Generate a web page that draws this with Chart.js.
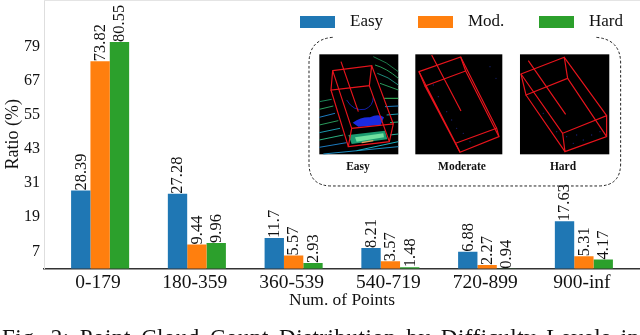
<!DOCTYPE html>
<html>
<head>
<meta charset="utf-8">
<script src="https://cdn.jsdelivr.net/npm/chart.js@4"></script>
<style>
  html, body { margin: 0; padding: 0; background: #fff; }
  #wrap { position: relative; width: 640px; height: 335px; overflow: hidden; }
  #chart { position: absolute; left: 0; top: 0; }
  #inset { position: absolute; left: 0; top: 0; pointer-events: none; }
  .panel-label { position: absolute; top: 160px; width: 80px; text-align: center; font: bold 11.5px "Liberation Serif", serif; color: #111; }
  #caption { position: absolute; left: 2px; top: 325px; white-space: nowrap; font: 23px "Liberation Serif", serif; letter-spacing: 0.5px; word-spacing: 4px; color: #111; }
</style>
</head>
<body>
<div id="wrap">
  <canvas id="chart" width="640" height="335"></canvas>
  <svg id="inset" width="640" height="335">
    <g transform="translate(290,0) scale(0.3333)">
      <path d="M128 112 Q57 118 57 190 L57 490 Q57 558 125 558 L925 558 Q992 558 992 490 L992 190 Q992 118 918 112" fill="none" stroke="#222" stroke-width="3" stroke-dasharray="8 6"/>

      <rect x="88" y="163" width="237" height="300" fill="#000"/>
      <rect x="376" y="163" width="261" height="300" fill="#000"/>
      <rect x="690" y="163" width="268" height="300" fill="#000"/>

      <!-- lidar sweeps, first panel -->
      <g fill="none" stroke-width="3">
        <path d="M250 170 Q290 185 325 215" stroke="#1d7a4a"/>
        <path d="M255 195 Q290 205 325 235" stroke="#2a9a5a"/>
        <path d="M262 220 Q295 230 325 255" stroke="#1d8a7a"/>
        <path d="M270 250 L325 270" stroke="#2a9a5a"/>
        <path d="M282 295 L325 295" stroke="#3ac060"/>
        <path d="M285 320 L325 318" stroke="#1b7ac0"/>
        <path d="M290 345 L325 342" stroke="#1b9ab0"/>
        <path d="M300 368 L325 366" stroke="#2ab080"/>
        <path d="M88 305 L125 298" stroke="#1d8a5a"/>
        <path d="M88 328 L130 318" stroke="#2aa060"/>
        <path d="M88 352 L135 340" stroke="#1b7ac0"/>
        <path d="M88 375 L145 362" stroke="#2a9a5a"/>
        <path d="M88 398 L150 385" stroke="#1b9ab0"/>
        <path d="M88 420 L160 405" stroke="#2ab080"/>
        <path d="M88 442 L170 428" stroke="#1b7ac0"/>
        <path d="M100 462 L325 440" stroke="#1b8ac0"/>
        <path d="M200 452 L325 425" stroke="#1bb0c0"/>
        <path d="M300 405 L325 402" stroke="#2ab0a0"/>
      </g>
      <path d="M170 300 Q190 335 225 328 Q250 318 250 290" fill="none" stroke="#1420a8" stroke-width="3"/>
      <path d="M188 368 Q215 350 240 352 Q265 340 282 352 L272 375 L205 380 Z" fill="#1a2be0"/>
      <path d="M175 405 L285 392 L292 418 L185 432 Z" fill="#1c9a70"/>
      <path d="M195 412 L280 400 L282 412 L200 425 Z" fill="#70e0a0"/>
      <path d="M215 428 L250 422" stroke="#e0a060" stroke-width="4"/>

      <g fill="#16206e">
        <circle cx="430" cy="255" r="2"/><circle cx="445" cy="290" r="2"/><circle cx="470" cy="335" r="2"/>
        <circle cx="485" cy="360" r="2"/><circle cx="500" cy="385" r="2"/><circle cx="520" cy="400" r="2"/>
        <circle cx="540" cy="425" r="2"/><circle cx="600" cy="200" r="2"/><circle cx="618" cy="235" r="2"/>
        <circle cx="800" cy="395" r="2"/><circle cx="850" cy="430" r="2"/><circle cx="880" cy="420" r="2"/>
        <circle cx="905" cy="405" r="2"/><circle cx="930" cy="395" r="2"/><circle cx="760" cy="340" r="2"/>
        <circle cx="830" cy="410" r="2"/><circle cx="860" cy="405" r="2"/>
      </g>

      <!-- boxes -->
      <g fill="none" stroke="#e8141c" stroke-width="3.5">
        <path d="M128 212 L245 197 L238 257 L123 270 Z"/>
        <path d="M175 440 L298 425 L310 372 L185 385 Z"/>
        <path d="M128 212 L185 385 M245 197 L310 372 M123 270 L175 440 M238 257 L298 425 M153 185 L205 335"/>

        <path d="M387 215 L512 171 L527 213 L405 258 Z"/>
        <path d="M510 457 L627 410 L620 385 L497 430 Z"/>
        <path d="M387 215 L497 430 M512 171 L620 385 M405 258 L510 457 M527 213 L627 410 M425 165 L513 333"/>

        <path d="M693 222 L823 172 L833 235 L708 285 Z"/>
        <path d="M825 455 L950 410 L950 347 L818 400 Z"/>
        <path d="M693 222 L818 400 M823 172 L950 347 M708 285 L825 455 M833 235 L950 410 M715 182 L827 343"/>
      </g>
    </g>
  </svg>
  <div class="panel-label" style="left:318px">Easy</div>
  <div class="panel-label" style="left:422px">Moderate</div>
  <div class="panel-label" style="left:523px">Hard</div>
  <div id="caption">Fig. 2: Point Cloud Count Distribution by Difficulty Levels in</div>
</div>

<script>
const categories = ["0-179", "180-359", "360-539", "540-719", "720-899", "900-inf"];
const easy = [28.39, 27.28, 11.7, 8.21, 6.88, 17.63];
const moderate = [73.82, 9.44, 5.57, 3.57, 2.27, 5.31];
const hard = [80.55, 9.96, 2.93, 1.48, 0.94, 4.17];
const yTicks = [7, 19, 31, 43, 55, 67, 79];

const serif = '"Liberation Serif", serif';

function toPoints(values) {
    return values.map((v, i) => ({ x: i, y: v }));
}

// rotated numbers sitting on top of each bar
const valueLabels = {
    id: "valueLabels",
    afterDatasetsDraw(chart) {
        const ctx = chart.ctx;
        ctx.save();
        ctx.font = "16.5px " + serif;
        ctx.fillStyle = "#111";
        ctx.textAlign = "left";
        ctx.textBaseline = "middle";
        chart.data.datasets.forEach((ds, d) => {
            chart.getDatasetMeta(d).data.forEach((bar, i) => {
                ctx.save();
                ctx.translate(bar.x + 0.5, bar.y);
                ctx.rotate(-Math.PI / 2);
                ctx.fillText(String(ds.data[i].y), 0, 0);
                ctx.restore();
            });
        });
        ctx.restore();
    }
};

// legend sits over the plot with wide gaps, the built in one can't space it like this
const topLegend = {
    id: "topLegend",
    afterDraw(chart) {
        const ctx = chart.ctx;
        const swatches = [300, 418, 539];
        ctx.save();
        ctx.font = "17px " + serif;
        ctx.textBaseline = "middle";
        ctx.textAlign = "left";
        chart.data.datasets.forEach((ds, d) => {
            ctx.fillStyle = ds.backgroundColor;
            ctx.fillRect(swatches[d], 16, 35, 12);
            ctx.fillStyle = "#111";
            ctx.fillText(ds.label, swatches[d] + 50, 22);
        });
        // faint top spine
        ctx.strokeStyle = "#e4e4e4";
        ctx.beginPath();
        ctx.moveTo(44, 0.5);
        ctx.lineTo(640, 0.5);
        ctx.stroke();
        ctx.restore();
    }
};

new Chart(document.getElementById("chart").getContext("2d"), {
    type: "bar",
    data: {
        datasets: [
            { label: "Easy", data: toPoints(easy), backgroundColor: "#1f77b4" },
            { label: "Mod.", data: toPoints(moderate), backgroundColor: "#ff7f0e" },
            { label: "Hard", data: toPoints(hard), backgroundColor: "#2ca02c" }
        ]
    },
    options: {
        responsive: false,
        animation: false,
        categoryPercentage: 0.6,
        barPercentage: 1,
        layout: { padding: 0 },
        plugins: {
            legend: { display: false },
            tooltip: { enabled: false }
        },
        scales: {
            x: {
                type: "linear",
                offset: false,
                min: -0.58,
                max: 5.58,
                afterBuildTicks(scale) {
                    scale.ticks = categories.map((c, i) => ({ value: i }));
                },
                afterFit(scale) {
                    scale.height = 66.5;
                    scale.paddingLeft = 0;
                    scale.paddingRight = 0;
                },
                grid: { display: false, tickLength: 3, drawTicks: true },
                border: { color: "#333", width: 1.5 },
                ticks: {
                    autoSkip: false,
                    maxRotation: 0,
                    padding: 0,
                    labelOffset: -2,
                    color: "#111",
                    font: { family: serif, size: 19.5 },
                    callback: value => categories[value]
                },
                title: {
                    display: true,
                    text: "Num. of Points",
                    color: "#111",
                    font: { family: serif, size: 17.4 },
                    padding: { top: 0, bottom: 24 }
                }
            },
            y: {
                min: 1,
                max: 95.3,
                afterBuildTicks(scale) {
                    scale.ticks = yTicks.map(v => ({ value: v }));
                },
                afterFit(scale) {
                    scale.width = 44;
                    scale.paddingTop = 0;
                    scale.paddingBottom = 0;
                },
                grid: { display: false, tickLength: 2 },
                border: { color: "#dedede" },
                ticks: {
                    padding: 2,
                    color: "#111",
                    font: { family: serif, size: 16 }
                },
                title: {
                    display: true,
                    text: "Ratio (%)",
                    color: "#111",
                    font: { family: serif, size: 18 },
                    padding: { top: 2, bottom: 0 }
                }
            }
        }
    },
    plugins: [valueLabels, topLegend]
});
</script>
</body>
</html>
